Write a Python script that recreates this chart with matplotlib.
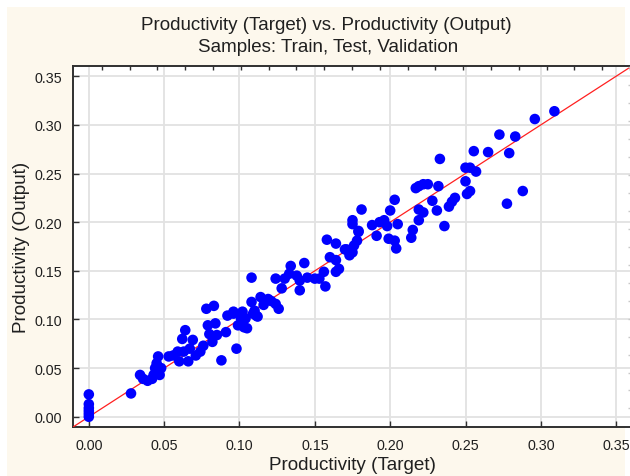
import numpy as np
import matplotlib
matplotlib.use("Agg")
import matplotlib.pyplot as plt
from matplotlib.patches import Rectangle

plt.rcParams['font.family'] = ['Liberation Sans', 'DejaVu Sans']

# target values
target = [
    0.0, 0.0, 0.0, 0.0, 0.0, 0.0,
    0.028, 0.034, 0.036, 0.039, 0.042, 0.043, 0.044, 0.045, 0.046, 0.047, 0.048,
    0.053, 0.056, 0.059, 0.060, 0.062, 0.064, 0.063, 0.066, 0.067, 0.069, 0.071,
    0.074, 0.076, 0.078, 0.083, 0.079, 0.080, 0.082, 0.084, 0.085, 0.088, 0.091,
    0.092, 0.096, 0.098, 0.099, 0.101, 0.105, 0.104, 0.108, 0.109, 0.111,
    0.108, 0.096, 0.102, 0.103, 0.110, 0.112, 0.114, 0.116, 0.119, 0.121, 0.124,
    0.126, 0.124, 0.128, 0.130, 0.133, 0.134, 0.138, 0.140, 0.143, 0.140, 0.145,
    0.150, 0.153, 0.156, 0.157, 0.158, 0.164, 0.160, 0.164, 0.166, 0.164, 0.170,
    0.173, 0.176, 0.178, 0.179,
    0.181, 0.175, 0.175, 0.179, 0.188, 0.191, 0.193, 0.196, 0.198, 0.199, 0.203,
    0.204, 0.205, 0.200, 0.203, 0.171, 0.175,
    0.214, 0.215, 0.219, 0.219, 0.222, 0.217, 0.219, 0.222, 0.225, 0.228, 0.231,
    0.232, 0.236, 0.239, 0.241, 0.243, 0.250, 0.253, 0.257, 0.250, 0.251, 0.253,
    0.233,
    0.2555, 0.265, 0.2725, 0.2775, 0.279, 0.283, 0.288, 0.296, 0.309,
]

# network output values, same order
output = [
    0.0, 0.003, 0.006, 0.009, 0.013, 0.023,
    0.024, 0.043, 0.039, 0.037, 0.039, 0.043, 0.050, 0.055, 0.062, 0.043, 0.050,
    0.062, 0.063, 0.067, 0.057, 0.080, 0.089, 0.067, 0.057, 0.070, 0.079, 0.063,
    0.067, 0.073, 0.111, 0.114, 0.094, 0.085, 0.077, 0.096, 0.084, 0.058, 0.087,
    0.104, 0.106, 0.070, 0.094, 0.101, 0.091, 0.101, 0.118, 0.106, 0.104,
    0.143, 0.108, 0.108, 0.092, 0.109, 0.103, 0.123, 0.115, 0.121, 0.119, 0.116,
    0.111, 0.142, 0.132, 0.142, 0.147, 0.155, 0.145, 0.130, 0.158, 0.140, 0.143,
    0.142, 0.142, 0.149, 0.134, 0.182, 0.178, 0.164, 0.161, 0.152, 0.149, 0.172,
    0.166, 0.176, 0.181, 0.190,
    0.213, 0.202, 0.198, 0.191, 0.197, 0.186, 0.200, 0.202, 0.196, 0.183, 0.181,
    0.173, 0.198, 0.212, 0.223, 0.172, 0.169,
    0.184, 0.192, 0.202, 0.213, 0.210, 0.235, 0.237, 0.239, 0.239, 0.222, 0.212,
    0.237, 0.196, 0.216, 0.221, 0.225, 0.256, 0.256, 0.252, 0.242, 0.229, 0.232,
    0.265,
    0.273, 0.272, 0.290, 0.219, 0.271, 0.288, 0.232, 0.306, 0.314,
]

ticks = [0.00, 0.05, 0.10, 0.15, 0.20, 0.25, 0.30, 0.35]
lim = (-0.0105, 0.3605)

fig = plt.figure(figsize=(6.30, 4.77), dpi=100, facecolor='white')
fig.patches.append(Rectangle((7 / 630, 0), 618 / 630, 1 - 8 / 477,
                             transform=fig.transFigure, facecolor='#fdf8ed',
                             edgecolor='none', zorder=-10))

ax = fig.add_axes([73 / 630, 1 - 428 / 477, 559 / 630, 361 / 477])
ax.set_facecolor('white')
ax.set_xlim(lim)
ax.set_ylim(lim)
ax.set_xticks(ticks)
ax.set_yticks(ticks)
ax.set_xticklabels(['%.2f' % t for t in ticks])
ax.set_yticklabels(['%.2f' % t for t in ticks])
ax.grid(True, color='#e2e2e2', linewidth=1.3)
ax.set_axisbelow(True)

ax.plot(lim, lim, color='#ff2020', linewidth=0.9, zorder=3)
ax.scatter(target, output, s=58, color='#0000ff', edgecolors='none', zorder=4)

for sp in ax.spines.values():
    sp.set_color('#303030')
    sp.set_linewidth(1.4)
ax.tick_params(direction='in', length=4, width=1, color='#303030',
               labelsize=10.3, labelcolor='#202020', pad=8)

# small extra ticks along top and right like the original
minor = np.arange(0.0086, 0.36, 0.01845)
top = ax.twiny()
top.set_xlim(lim)
top.set_xticks(minor)
top.tick_params(direction='in', length=3, width=1, color='#303030', labeltop=False)
right = ax.twinx()
right.set_ylim(lim)
right.set_yticks(minor)
right.tick_params(direction='in', length=3, width=1, color='#c8c8c8', labelright=False)
for a in (top, right):
    for sp in a.spines.values():
        sp.set_visible(False)

ax.set_xlabel('Productivity (Target)', fontsize=13.6, color='#202020', labelpad=3)
ax.set_ylabel('Productivity (Output)', fontsize=13.6, color='#202020', labelpad=3)

fig.text(326 / 630, 1 - 25 / 477, 'Productivity (Target) vs. Productivity (Output)',
         ha='center', va='center', fontsize=13.5, color='#202020')
fig.text(328 / 630, 1 - 47 / 477, 'Samples: Train, Test, Validation',
         ha='center', va='center', fontsize=13.5, color='#202020')

fig.savefig('out.png', dpi=100, facecolor=fig.get_facecolor())
